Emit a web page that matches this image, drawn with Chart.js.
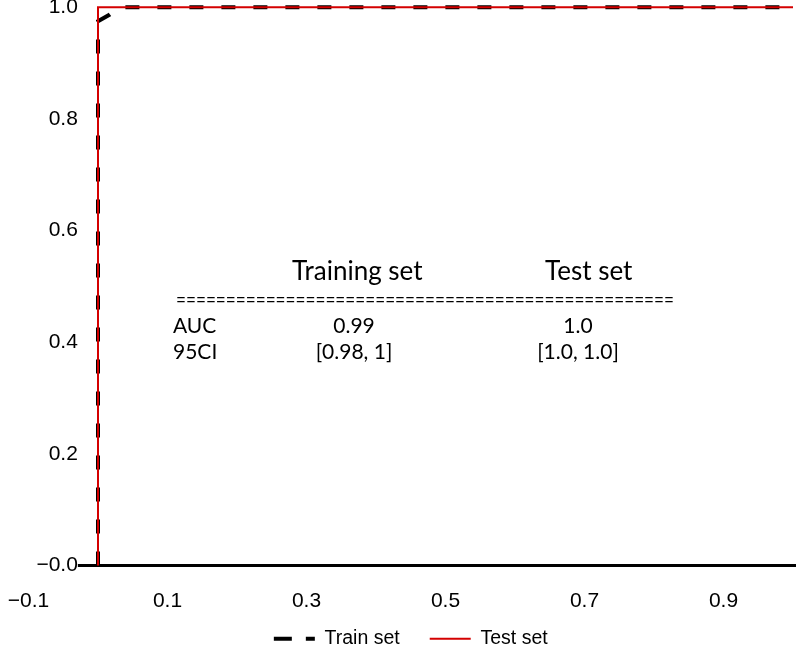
<!DOCTYPE html>
<html><head><meta charset="utf-8">
<script src="https://cdn.jsdelivr.net/npm/chart.js@4"></script>
<style>html,body{margin:0;padding:0;background:#fff}#wrap{width:796px;height:649px;position:relative}</style>
</head><body><div id="wrap"><canvas id="c"></canvas></div>
<script>
const trainFPR = [0, 0, 0.017, 0.03, 1];
const trainTPR = [0, 0.975, 0.987, 1, 1];
const testFPR = [0, 0, 1];
const testTPR = [0, 1, 1];
const xTickValues = [-0.1, 0.1, 0.3, 0.5, 0.7, 0.9];
const xTickLabels = ['\u22120.1', '0.1', '0.3', '0.5', '0.7', '0.9'];
const yTickValues = [0, 0.2, 0.4, 0.6, 0.8, 1.0];
const yTickLabels = ['\u22120.0', '0.2', '0.4', '0.6', '0.8', '1.0'];
const seriesNames = ['Train set', 'Test set'];
const tableHeader = ['Training set', 'Test set'];
const tableRule = '='.repeat(50);
const tableRows = [['AUC', '0.99', '1.0'], ['95CI', '[0.98, 1]', '[1.0, 1.0]']];

const toPts = (xs, ys) => xs.map((x, i) => ({x: x, y: ys[i]}));

const axisLine = {
  id: 'axisLine',
  beforeDatasetsDraw(chart) {
    const {ctx, scales: {x, y}, chartArea} = chart;
    const x0 = x.getPixelForValue(-0.029);
    const y0 = y.getPixelForValue(0);
    ctx.save();
    ctx.strokeStyle = '#000';
    ctx.lineWidth = 3;
    ctx.beginPath();
    ctx.moveTo(x0, y0);
    ctx.lineTo(chartArea.right + 3, y0);
    ctx.stroke();
    ctx.restore();
  }
};

const table = {
  id: 'table',
  afterDatasetsDraw(chart) {
    const ctx = chart.ctx;
    ctx.save();
    ctx.fillStyle = '#000';
    ctx.textBaseline = 'middle';
    ctx.textAlign = 'left';
    ctx.font = '26px Lato';
    ctx.fillText(tableHeader[0], 292, 272);
    ctx.fillText(tableHeader[1], 545, 272);
    ctx.font = '21px Lato';
    ctx.fillText(tableRule, 176, 300, 498);
    const rowY = [326, 352];
    const colCenters = [354, 578];
    tableRows.forEach((row, r) => {
      ctx.textAlign = 'left';
      ctx.fillText(row[0], 173, rowY[r]);
      ctx.textAlign = 'center';
      ctx.fillText(row[1], colCenters[0], rowY[r]);
      ctx.fillText(row[2], colCenters[1], rowY[r]);
    });
    ctx.restore();
  }
};

new Chart(document.getElementById('c'), {
  type: 'scatter',
  data: {
    datasets: [
      {label: seriesNames[0], data: toPts(trainFPR, trainTPR), showLine: true, borderColor: '#000', backgroundColor: '#000',
       borderWidth: 4, borderDash: [14, 18], pointRadius: 0, order: 2, clip: false, tension: 0},
      {label: seriesNames[1], data: toPts(testFPR, testTPR), showLine: true, borderColor: '#d40000', backgroundColor: '#d40000',
       borderWidth: 2, pointRadius: 0, order: 1, clip: false, tension: 0}
    ]
  },
  options: {
    responsive: true,
    maintainAspectRatio: false,
    animation: false,
    layout: {padding: {left: 28.5, right: 3, top: 7, bottom: -9.5}},
    scales: {
      x: {
        type: 'linear', min: -0.1, max: 1.0,
        grid: {display: false, drawTicks: false},
        border: {display: false},
        afterBuildTicks: (s) => { s.ticks = xTickValues.map(v => ({value: v})); },
        afterFit: (s) => { s.height = 33.5; },
        ticks: {
          mirror: true, padding: -48.6, color: '#000', font: {family: 'Liberation Sans', size: 21},
          callback: (v, i) => xTickLabels[i]
        }
      },
      y: {
        type: 'linear', min: 0, max: 1.0,
        position: {x: -0.029},
        grid: {display: false, drawTicks: false},
        border: {display: false},
        afterBuildTicks: (s) => { s.ticks = yTickValues.map(v => ({value: v})); },
        afterFit: (s) => { s.width = 0; },
        ticks: {
          padding: 2, color: '#000', font: {family: 'Liberation Sans', size: 21, lineHeight: 0.5},
          callback: (v, i) => yTickLabels[i]
        }
      }
    },
    plugins: {
      legend: {
        position: 'bottom',
        labels: {
          boxWidth: 41, boxHeight: 0, padding: 30, color: '#000',
          font: {family: 'Liberation Sans', size: 19.5},
          sort: (a, b) => a.datasetIndex - b.datasetIndex
        }
      },
      tooltip: {enabled: false}
    }
  },
  plugins: [axisLine, table]
});
</script></body></html>
